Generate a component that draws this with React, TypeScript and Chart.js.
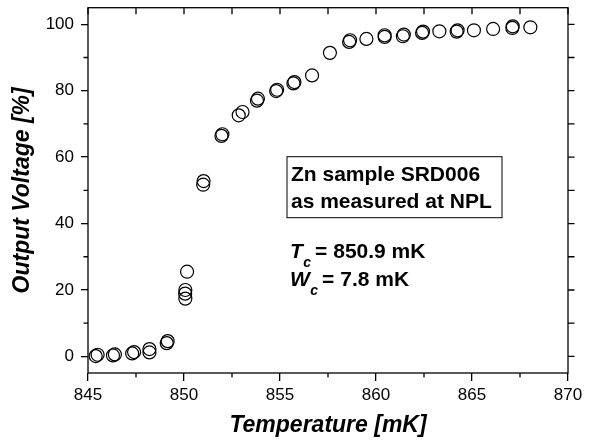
import React, { useEffect, useRef } from 'react';
import { Chart, registerables } from 'chart.js';

Chart.register(...registerables);

// Temperature in mK
const temperatures = [
  845.4, 845.5, 846.3, 846.4, 847.3, 847.4, 848.2, 848.2, 849.1, 849.15,
  850.07, 850.06, 850.07, 850.16, 851.0, 851.02, 851.95, 852.0, 852.85, 853.05,
  853.8, 853.85, 854.8, 854.85, 855.7, 855.75, 856.67, 857.6, 858.6, 858.65,
  859.5, 860.45, 860.45, 861.4, 861.45, 862.4, 862.45, 863.3, 864.2, 864.25,
  865.1, 866.1, 867.1, 867.12, 868.04,
];
// Output voltage in %
const voltages = [
  0.1, 0.5, 0.3, 0.6, 0.9, 1.3, 1.2, 2.2, 4.0, 4.6,
  17.4, 18.9, 20.0, 25.5, 51.7, 52.8, 66.4, 66.9, 72.6, 73.6,
  77.0, 77.6, 79.9, 80.3, 82.2, 82.6, 84.6, 91.4, 94.7, 95.2,
  95.6, 96.2, 96.7, 96.4, 96.9, 97.4, 97.8, 97.9, 97.8, 98.2,
  98.2, 98.6, 98.9, 99.4, 99.1,
];

const xTickValues = [845, 850, 855, 860, 865, 870];
const yTickValues = [0, 20, 40, 60, 80, 100];
const xMinorTicks = [847.5, 852.5, 857.5, 862.5, 867.5];
const yMinorTicks = [10, 30, 50, 70, 90];
const topTicks = [845, 847.5, 850, 852.5, 855, 857.5, 860, 862.5, 865, 867.5, 870];
const rightTicks = [0, 10, 20, 30, 40, 50, 60, 70, 80, 90, 100];

const boxLines = ['Zn sample SRD006', 'as measured at NPL'];
const paramLines = [
  { symbol: 'T', sub: 'c', rest: '= 850.9 mK' },
  { symbol: 'W', sub: 'c', rest: '= 7.8 mK' },
];

const FONT = '"Liberation Sans", Arial, sans-serif';

const framePlugin = {
  id: 'framePlugin',
  afterDraw(chart: any) {
    const { ctx, chartArea, scales } = chart;
    const { left, right, top, bottom } = chartArea;
    const x = scales.x;
    const y = scales.y;
    ctx.save();
    ctx.strokeStyle = '#000';
    ctx.lineWidth = 1.3;
    ctx.strokeRect(left, top, right - left, bottom - top);
    ctx.beginPath();
    xMinorTicks.forEach((v) => {
      const px = x.getPixelForValue(v);
      ctx.moveTo(px, bottom);
      ctx.lineTo(px, bottom + 4.5);
    });
    topTicks.forEach((v) => {
      const px = x.getPixelForValue(v);
      ctx.moveTo(px, top);
      ctx.lineTo(px, top + 6.5);
    });
    yMinorTicks.forEach((v) => {
      const py = y.getPixelForValue(v);
      ctx.moveTo(left - 4.5, py);
      ctx.lineTo(left, py);
    });
    rightTicks.forEach((v) => {
      const py = y.getPixelForValue(v);
      ctx.moveTo(right, py);
      ctx.lineTo(right + 6.5, py);
    });
    ctx.stroke();

    // annotation box
    const bx = left + 199;
    const by = top + 149;
    ctx.lineWidth = 1;
    ctx.strokeRect(bx, by, 215, 61);
    ctx.fillStyle = '#000';
    ctx.textBaseline = 'alphabetic';
    ctx.textAlign = 'left';
    ctx.font = `bold 21px ${FONT}`;
    boxLines.forEach((t, i) => {
      ctx.fillText(t, bx + 4, by + 24 + i * 27);
    });

    paramLines.forEach((p, i) => {
      const base = by + 101 + i * 28;
      let cx = bx + 3;
      ctx.font = `italic bold 21px ${FONT}`;
      ctx.fillText(p.symbol, cx, base);
      cx += ctx.measureText(p.symbol).width + 0.5;
      ctx.font = `italic bold 14px ${FONT}`;
      ctx.fillText(p.sub, cx, base + 9);
      cx += ctx.measureText(p.sub).width + 4;
      ctx.font = `bold 21px ${FONT}`;
      ctx.fillText(p.rest, cx, base);
    });
    ctx.restore();
  },
};

export default function App() {
  const ref = useRef<HTMLCanvasElement | null>(null);
  useEffect(() => {
    if (!ref.current) return;
    const data = temperatures.map((t, i) => ({ x: t, y: voltages[i] }));
    const chart = new Chart(ref.current, {
      type: 'scatter',
      data: {
        datasets: [
          {
            data,
            pointStyle: 'circle',
            pointRadius: 6.5,
            pointBorderWidth: 1.2,
            pointBorderColor: '#000',
            pointBackgroundColor: 'rgba(255,255,255,0)',
          },
        ],
      },
      options: {
        animation: false,
        responsive: true,
        maintainAspectRatio: false,
        layout: { padding: { top: 7, right: 22, left: 0, bottom: 0 } },
        plugins: { legend: { display: false }, tooltip: { enabled: false } },
        scales: {
          x: {
            type: 'linear',
            min: 845,
            max: 870,
            afterBuildTicks: (axis: any) => {
              axis.ticks = xTickValues.map((v) => ({ value: v }));
            },
            afterFit: (axis: any) => {
              axis.height = 73;
            },
            grid: {
              display: true,
              drawOnChartArea: false,
              drawTicks: true,
              tickLength: 8,
              color: '#000',
              lineWidth: 1.3,
            },
            border: { display: false },
            ticks: {
              color: '#000',
              padding: 4,
              font: { family: FONT, size: 17 },
              maxRotation: 0,
            },
            title: {
              display: true,
              text: 'Temperature [mK]',
              color: '#000',
              font: { family: FONT, size: 23, style: 'italic', weight: 'bold' },
              padding: { top: 0, bottom: 7 },
            },
          },
          y: {
            type: 'linear',
            min: -5,
            max: 105,
            afterBuildTicks: (axis: any) => {
              axis.ticks = yTickValues.map((v) => ({ value: v }));
            },
            afterFit: (axis: any) => {
              axis.width = 88;
              axis.paddingTop = 0;
              axis.paddingBottom = 0;
            },
            grid: {
              display: true,
              drawOnChartArea: false,
              drawTicks: true,
              tickLength: 7,
              color: '#000',
              lineWidth: 1.3,
            },
            border: { display: false },
            ticks: {
              color: '#000',
              padding: 7,
              font: { family: FONT, size: 17 },
            },
            title: {
              display: true,
              text: 'Output Voltage [%]',
              color: '#000',
              font: { family: FONT, size: 23, style: 'italic', weight: 'bold' },
              padding: { top: 9, bottom: 0 },
            },
          },
        },
      },
      plugins: [framePlugin],
    });
    return () => chart.destroy();
  }, []);

  return (
    <div style={{ position: 'absolute', left: 0, top: 0, width: 590, height: 446, background: '#fff' }}>
      <canvas ref={ref} />
    </div>
  );
}
